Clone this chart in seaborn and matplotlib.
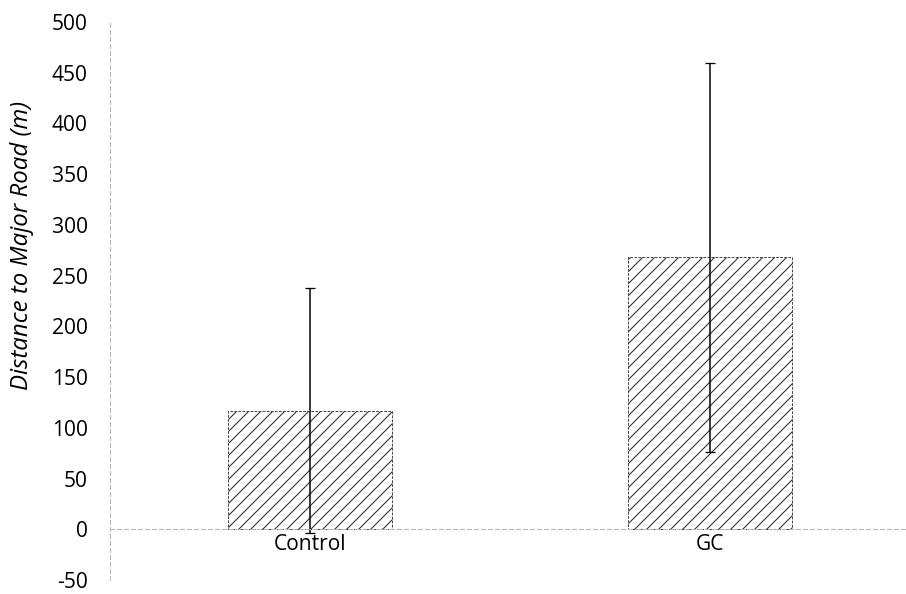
import matplotlib
matplotlib.use("Agg")
import matplotlib.pyplot as plt
import seaborn as sns

# Values
groups = ["Control", "GC"]
mean_distance = [117, 268]
sd_distance = [121, 192]
y_ticks = [-50, 0, 50, 100, 150, 200, 250, 300, 350, 400, 450, 500]

sns.set_style("white")
plt.rcParams["font.family"] = ["Open Sans", "DejaVu Sans"]
plt.rcParams["hatch.linewidth"] = 1.1
plt.rcParams["axes.unicode_minus"] = False
plt.rcParams["text.color"] = "black"
plt.rcParams["axes.labelcolor"] = "black"
plt.rcParams["xtick.color"] = "black"
plt.rcParams["ytick.color"] = "black"

fig = plt.figure(figsize=(906 / 72, 594 / 72), dpi=72)
ax = fig.add_axes([110 / 906, 14 / 594, 800 / 906, 558 / 594])

sns.barplot(x=groups, y=mean_distance, ax=ax, color="white",
            edgecolor="#333333", hatch="//", width=0.41, linewidth=0.9,
            linestyle=(0, (3, 1.5)), errorbar=None)

# error bars (one SD)
ax.errorbar(range(len(groups)), mean_distance, yerr=sd_distance, fmt="none",
            ecolor="black", elinewidth=1.5, capsize=5, capthick=1.3)

ax.set_xlim(-0.5, 1.5)
ax.set_ylim(-50, 500)
ax.set_yticks(y_ticks)
ax.tick_params(axis="y", length=0, pad=22, labelsize=21)
ax.tick_params(axis="x", length=0, pad=5, labelsize=21)

ax.set_ylabel("Distance to Major Road (m)", fontsize=24, style="italic")
ax.yaxis.set_label_coords(-0.095, 0.60)
ax.set_xlabel("")

for side in ["top", "right"]:
    ax.spines[side].set_visible(False)
ax.spines["bottom"].set_position(("data", 0))
for side in ["left", "bottom"]:
    ax.spines[side].set_color("#b5b5b5")
    ax.spines[side].set_linewidth(1)
    ax.spines[side].set_linestyle((0, (4, 3)))

fig.savefig("out.png", dpi=72)
